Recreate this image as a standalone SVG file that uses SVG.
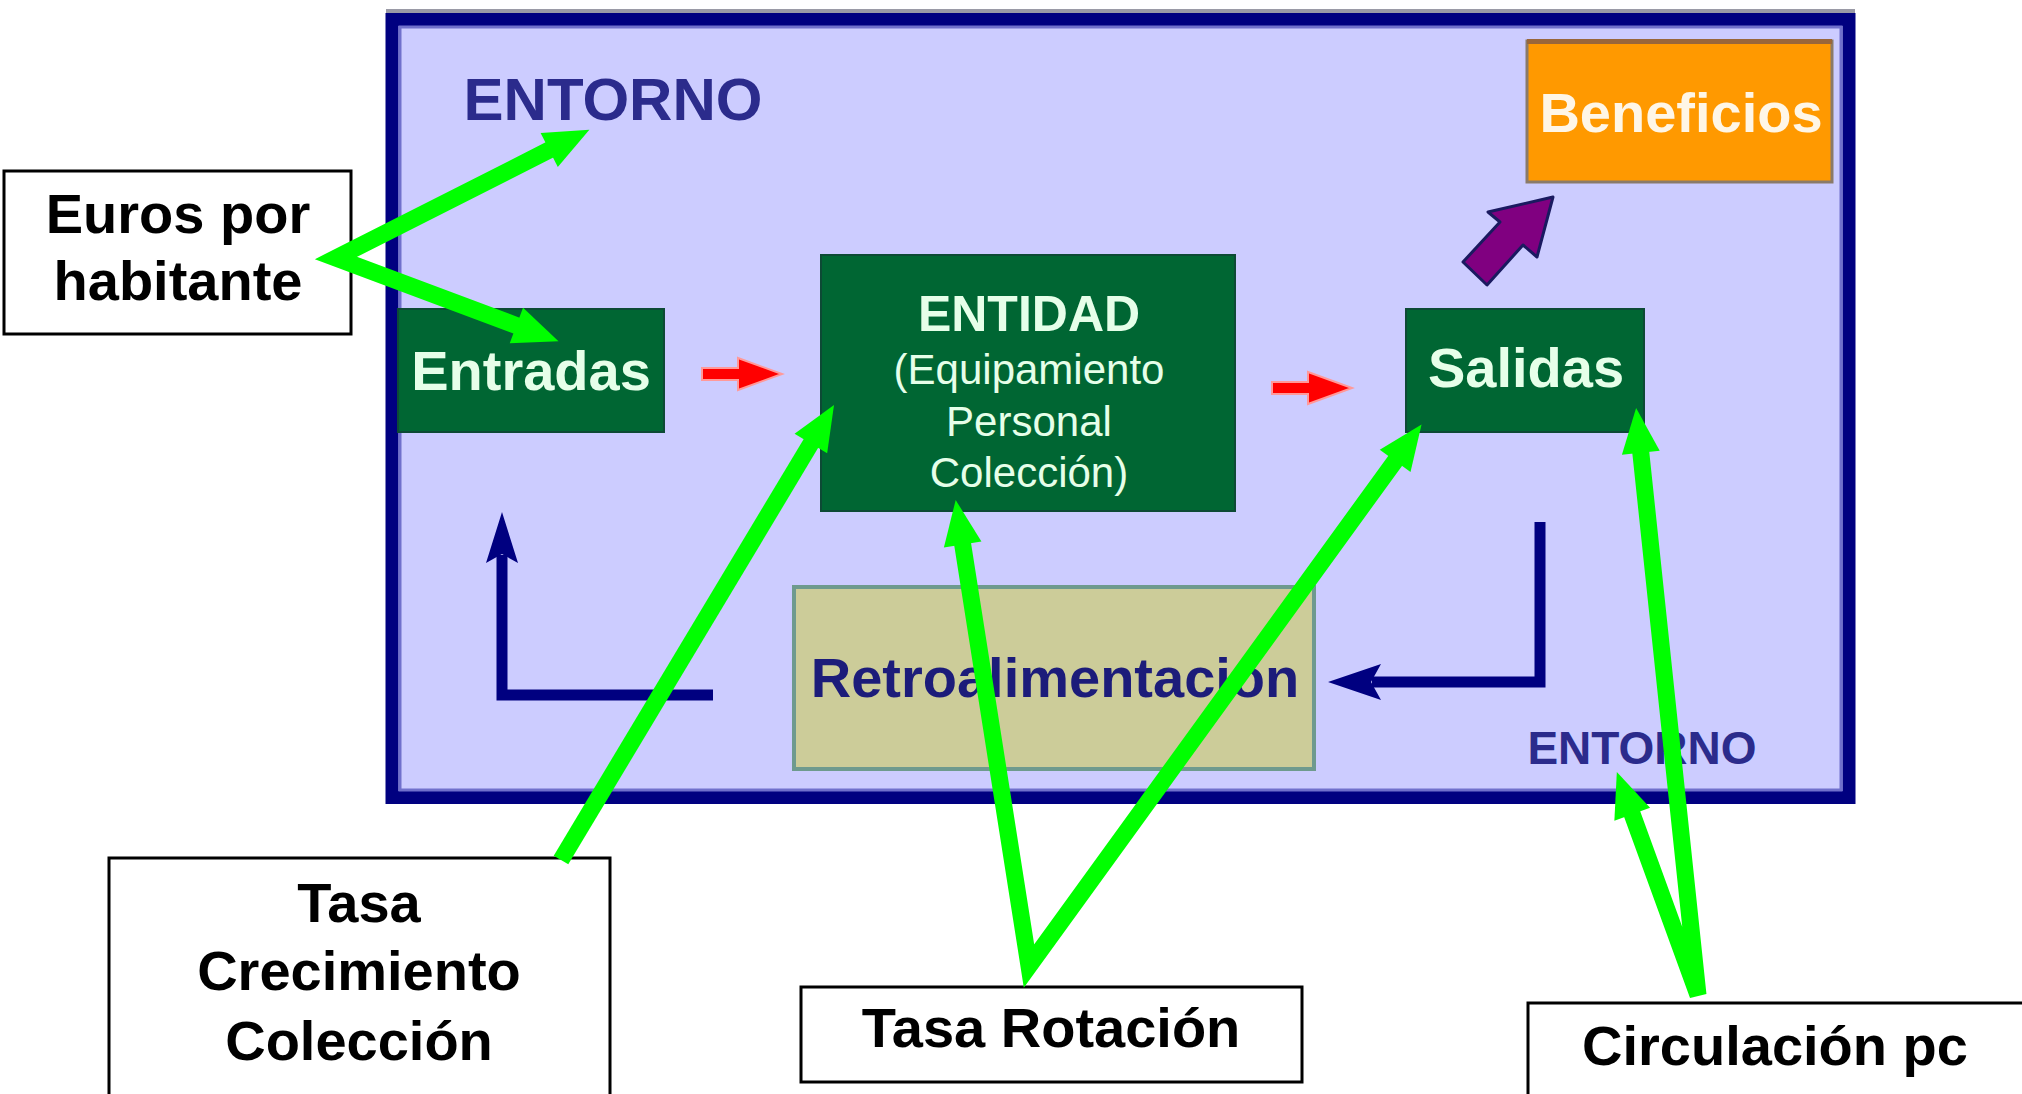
<svg xmlns="http://www.w3.org/2000/svg" width="2022" height="1094" viewBox="0 0 2022 1094">
<defs>
<style>
.lbl{font-family:"Liberation Sans",Arial,sans-serif;font-weight:bold;font-size:56px;fill:#000;text-anchor:middle}
.lblbox{fill:#fff;stroke:#000;stroke-width:3}
.gbox{fill:#006633;stroke:#0d4a35;stroke-width:2}
.gtxt{font-family:"Liberation Sans",Arial,sans-serif;fill:#E6FFE9;text-anchor:middle}
.navytxt{font-family:"Liberation Sans",Arial,sans-serif;font-weight:bold;fill:#2B2B8C;text-anchor:middle}
.green{fill:none;stroke:#00FF00;stroke-width:17;stroke-miterlimit:4}
.navy{fill:none;stroke:#000080;stroke-width:11}
</style>
<marker id="gh" markerUnits="userSpaceOnUse" viewBox="-5 -25 55 50" markerWidth="55" markerHeight="50" refX="0" refY="0" orient="auto-start-reverse">
<path d="M-3,-19 L42,0 L-3,19 Z" fill="#00FF00"/>
</marker>
</defs>
<rect width="2022" height="1094" fill="#fff"/>

<g id="frame">
<rect x="386" y="9" width="1469" height="5" fill="#9a9aa6"/>
<rect x="392" y="19.5" width="1457" height="778" fill="#CCCCFF" stroke="#000080" stroke-width="13"/>
<rect x="400" y="27" width="1441" height="763" fill="none" stroke="#7070CC" stroke-width="3"/>
</g>

<g id="entorno-top"><text class="navytxt" x="613" y="120" font-size="60">ENTORNO</text></g>
<g id="entorno-bottom"><text class="navytxt" x="1642" y="764" font-size="46">ENTORNO</text></g>

<g id="entradas">
<rect class="gbox" x="398" y="309" width="266" height="123"/>
<text class="gtxt" x="531" y="390" font-size="56" font-weight="bold">Entradas</text>
</g>

<g id="entidad">
<rect class="gbox" x="821" y="255" width="414" height="256"/>
<text class="gtxt" x="1029" y="331" font-size="50" font-weight="bold">ENTIDAD</text>
<text class="gtxt" x="1029" y="384" font-size="42">(Equipamiento</text>
<text class="gtxt" x="1029" y="436" font-size="42">Personal</text>
<text class="gtxt" x="1029" y="487" font-size="42">Colección)</text>
</g>

<g id="salidas">
<rect class="gbox" x="1406" y="309" width="238" height="123"/>
<text class="gtxt" x="1526" y="387" font-size="56" font-weight="bold">Salidas</text>
</g>

<g id="beneficios">
<rect x="1527" y="41" width="305" height="141" fill="#FF9900" stroke="#8a7a6a" stroke-width="3"/>
<rect x="1527" y="39" width="305" height="5" fill="#99663a"/>
<text x="1681" y="132" font-family="Liberation Sans, Arial, sans-serif" font-weight="bold" font-size="56" fill="#FFF6E6" text-anchor="middle">Beneficios</text>
</g>

<g id="retroalimentacion">
<rect x="794" y="587" width="520" height="182" fill="#CCCC99" stroke="#6E9A8E" stroke-width="4"/>
<text x="1055" y="697" font-family="Liberation Sans, Arial, sans-serif" font-weight="bold" font-size="56" fill="#1C1C7A" text-anchor="middle">Retroalimentacion</text>
</g>

<g id="euros-por-habitante">
<rect class="lblbox" x="4" y="171" width="347" height="163"/>
<text class="lbl" x="178" y="233" font-size="55">Euros por</text>
<text class="lbl" x="178" y="300" font-size="55">habitante</text>
</g>

<g id="tasa-crecimiento">
<rect class="lblbox" x="109" y="858" width="501" height="240"/>
<text class="lbl" x="359" y="922">Tasa</text>
<text class="lbl" x="359" y="990">Crecimiento</text>
<text class="lbl" x="359" y="1060">Colección</text>
</g>

<g id="tasa-rotacion">
<rect class="lblbox" x="801" y="987" width="501" height="95"/>
<text class="lbl" x="1051" y="1047">Tasa Rotación</text>
</g>

<g id="circulacion-pc">
<rect class="lblbox" x="1528" y="1003" width="500" height="100"/>
<text class="lbl" x="1775" y="1065">Circulación pc</text>
</g>

<g id="connectors">
<path class="navy" d="M713,695 L502,695 L502,555"/>
<path d="M502,512 L518,563 L502,554 L486,563 Z" fill="#000080"/>
<path class="navy" d="M1540,522 L1540,682 L1372,682"/>
<path d="M1328,682 L1381,664 L1371,682 L1381,700 Z" fill="#000080"/>
<path id="red1" d="M702,368 L738,368 L738,358 L782,374 L738,390 L738,380 L702,380 Z" fill="#FF0000" stroke="#FF9999" stroke-width="2"/>
<path id="red2" d="M702,368 L738,368 L738,358 L782,374 L738,390 L738,380 L702,380 Z" fill="#FF0000" stroke="#FF9999" stroke-width="2" transform="translate(570,14)"/>
<path id="purple" d="M1553,197 L1537,257 L1523,245 L1487,285 L1463,262 L1500,222 L1488,212 Z" fill="#800080" stroke="#1a1a60" stroke-width="3" stroke-linejoin="round"/>
<path class="green" d="M551.9,148.7 L336,258 L519.2,326.6" marker-start="url(#gh)" marker-end="url(#gh)"/>
<path class="green" d="M561,860 L812.4,441" marker-end="url(#gh)"/>
<path class="green" d="M962.2,541.5 L1029,966 L1396.9,458.4" marker-start="url(#gh)" marker-end="url(#gh)"/>
<path class="green" d="M1640.5,449.8 L1698,995 L1631.2,811.5" marker-start="url(#gh)" marker-end="url(#gh)"/>
</g>
</svg>
